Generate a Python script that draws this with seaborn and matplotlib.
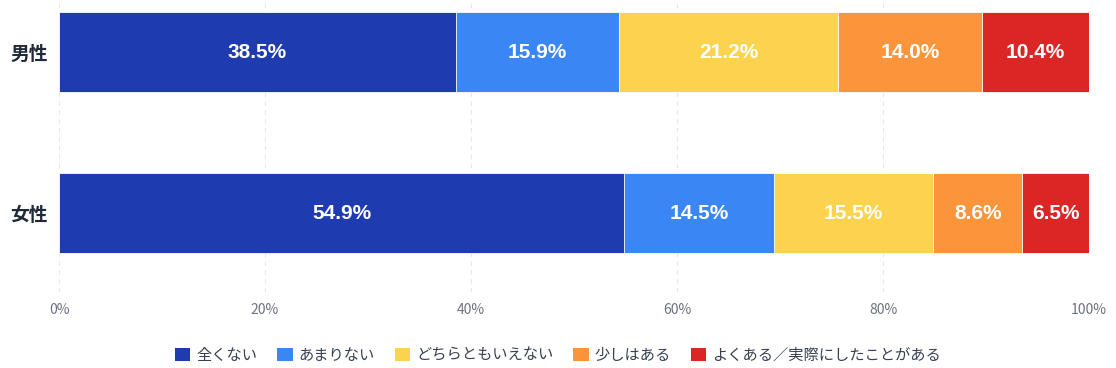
import numpy as np
import pandas as pd
import matplotlib.pyplot as plt
import seaborn as sns
from matplotlib.patches import Patch

# Data
groups = ["男性", "女性"]
answers = ["全くない", "あまりない", "どちらともいえない", "少しはある", "よくある／実際にしたことがある"]
colors = ["#1e3bb0", "#3a86f5", "#fcd34f", "#fb953c", "#dc2626"]
male = [38.5, 15.9, 21.2, 14.0, 10.4]
female = [54.9, 14.5, 15.5, 8.6, 6.5]
x_ticks = [0, 20, 40, 60, 80, 100]
x_tick_labels = ["0%", "20%", "40%", "60%", "80%", "100%"]

sns.set_theme(style="white")
plt.rcParams["font.family"] = ["Noto Sans CJK JP", "DejaVu Sans"]

df = pd.DataFrame({"group": groups})
vals = np.array([male, female])
cum = vals.cumsum(axis=1)
for i, a in enumerate(answers):
    df[a] = cum[:, i]

fig = plt.figure(figsize=(11.16, 3.68), dpi=100)
ax = fig.add_axes([0.0529, 0.207, 0.9229, 0.793])

# Stacked bars: draw cumulative totals from the outermost segment inward
for i in range(len(answers) - 1, -1, -1):
    sns.barplot(data=df, x=answers[i], y="group", order=groups, color=colors[i],
                width=0.495, edgecolor="white", linewidth=0.6, saturation=1, ax=ax, zorder=3)

# Value labels
for gi in range(len(groups)):
    for i in range(len(answers)):
        center = cum[gi, i] - vals[gi, i] / 2
        ax.text(center, gi, f"{vals[gi, i]:.1f}%", ha="center", va="center",
                color="white", fontsize=15, fontweight="bold",
                family=["Liberation Sans", "DejaVu Sans"], zorder=5)

ax.set_xlim(0, 100)
ax.set_ylim(1.49, -0.325)
ax.set_xticks(x_ticks)
ax.set_xticklabels(x_tick_labels, color="#6b7280", fontsize=10)
ax.tick_params(axis="x", length=0, pad=8)
ax.tick_params(axis="y", length=0, pad=8)
for lab in ax.get_yticklabels():
    lab.set_fontsize(13.5)
    lab.set_fontweight("bold")
    lab.set_color("#1f2937")
ax.set_xlabel("")
ax.set_ylabel("")
ax.xaxis.grid(True, color="#e5e7eb", linestyle=(0, (4, 4)), linewidth=0.8, zorder=0)
ax.set_axisbelow(True)
for s in ax.spines.values():
    s.set_visible(False)

handles = [Patch(facecolor=c, edgecolor="none", label=a) for c, a in zip(colors, answers)]
fig.legend(handles=handles, loc="center", bbox_to_anchor=(0.5, 0.035), ncol=5,
           frameon=False, fontsize=11, handlelength=1.0, handleheight=1.0,
           handletextpad=0.4, columnspacing=1.3, labelcolor="#374151")

fig.savefig("out.png", dpi=100)
